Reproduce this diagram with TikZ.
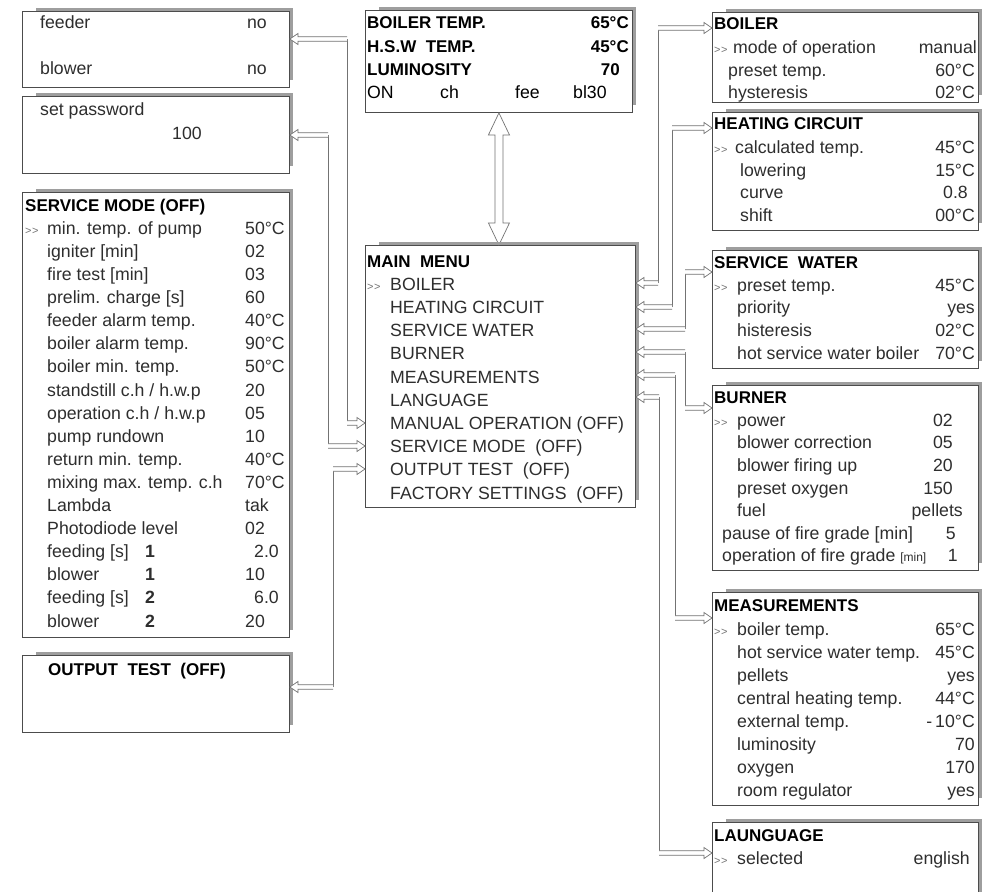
\documentclass[tikz,border=0pt]{standalone}
\usepackage{fontspec}
\setmainfont{Liberation Sans}
\usetikzlibrary{calc}

\tikzset{
  panel/.style={draw=black!70, line width=0.9pt, fill=white, anchor=north west, inner sep=0pt,
    minimum width=267pt},
  shade/.style={draw=black!38, line width=3pt},
  txt/.style={anchor=west, inner sep=0pt, text height=12.5pt, text depth=0pt, text=black!82,
    font=\fontsize{17.7}{20}\selectfont},
  val/.style={txt, anchor=east},
  ttl/.style={txt, text=black, font=\fontsize{17}{20}\selectfont\bfseries},
  ttlv/.style={ttl, anchor=east},
  wire/.style={draw=black!55, line width=0.7pt},
  % hollow double-line arrow, tip at the target
  hollow/.style={wire, fill=white, to path={
    let \p1=($(\tikztotarget)!8pt!(\tikztostart)$) in
    ($(\tikztostart)!2.3pt!90:(\tikztotarget)$) -- ($(\p1)!2.3pt!90:(\tikztotarget)$)
    -- ($(\p1)!5.5pt!90:(\tikztotarget)$) -- (\tikztotarget)
    -- ($(\p1)!5.5pt!-90:(\tikztotarget)$) -- ($(\p1)!2.3pt!-90:(\tikztotarget)$)
    -- ($(\tikztostart)!2.3pt!-90:(\tikztotarget)$)}},
  hollowboth/.style={wire, fill=white, to path={
    let \p1=($(\tikztostart)!22pt!(\tikztotarget)$), \p2=($(\tikztotarget)!22pt!(\tikztostart)$) in
    (\tikztostart) -- ($(\p1)!10.5pt!90:(\tikztotarget)$) -- ($(\p1)!4pt!90:(\tikztotarget)$)
    -- ($(\p2)!4pt!90:(\tikztotarget)$) -- ($(\p2)!10.5pt!90:(\tikztotarget)$) -- (\tikztotarget)
    -- ($(\p2)!10.5pt!-90:(\tikztotarget)$) -- ($(\p2)!4pt!-90:(\tikztotarget)$)
    -- ($(\p1)!4pt!-90:(\tikztotarget)$) -- ($(\p1)!10.5pt!-90:(\tikztotarget)$) -- cycle}}
}
\newcommand\sel{\mbox{\fontsize{11}{11}\selectfont\color{black!55}>\kern0.4pt>}}

\begin{document}
\begin{tikzpicture}[x=1pt, y=-1pt]
\path[fill=white] (0,0) rectangle (989,892);
\useasboundingbox (0,0) rectangle (989,892);

%display
\node[panel, minimum height=102pt] (status) at (365,10) {};
\node[ttl] at (367,22) {BOILER TEMP.};
\node[ttlv] at (629,22) {65°C};
\node[ttl] at (367,46) {H.S.W\ \ TEMP.};
\node[ttlv] at (629,46) {45°C};
\node[ttl] at (367,69) {LUMINOSITY};
\node[ttlv] at (620,69) {70};
\node[txt, text=black] at (367,92) {ON};
\node[txt, text=black] at (440,92) {ch};
\node[txt, text=black] at (515,92) {fee};
\node[txt, text=black] at (573,92) {bl30};

%main menu
\node[panel, minimum width=270pt, minimum height=262pt] (mm) at (365,245) {};
\node[ttl] at (367,261) {MAIN\ \ MENU};
\node[txt] at (367,284) {\sel};
\foreach \a [count=\i from 0] in {BOILER, HEATING CIRCUIT, SERVICE WATER, BURNER, MEASUREMENTS,
    LANGUAGE, MANUAL OPERATION (OFF), SERVICE MODE\ \ (OFF), OUTPUT TEST\ \ (OFF),
    FACTORY SETTINGS\ \ (OFF)}
  \node[txt] at (390,{284+23.2*\i}) {\a};

\draw[hollowboth] (status.south) to (status.south |- mm.north);

%left side
\node[panel, minimum height=76pt] (manual) at (22,11) {};
\node[txt] at (40,22) {feeder};
\node[val] at (267,22) {no};
\node[txt] at (40,68) {blower};
\node[val] at (267,68) {no};

\node[panel, minimum height=77pt] (passwd) at (22,96) {};
\node[txt] at (40,109) {set password};
\node[txt] at (172,133) {100};

\node[panel, minimum height=445pt] (service) at (22,192) {};
\node[ttl] at (25,205) {SERVICE MODE (OFF)};
\node[txt] at (25,228) {\sel};
\foreach \a/\b [count=\i] in {{min. temp. of pump}/50°C, {igniter [min]}/02, {fire test [min]}/03,
    {prelim. charge [s]}/60, {feeder alarm temp.}/40°C, {boiler alarm temp.}/90°C,
    {boiler min. temp.}/50°C, {standstill c.h / h.w.p}/20, {operation c.h / h.w.p}/05,
    {pump rundown}/10, {return min. temp.}/40°C, {mixing max. temp. c.h}/70°C,
    {Lambda}/tak, {Photodiode level}/02}
{
  \node[txt] at (47,{205+23.1*\i}) {\a};
  \node[txt] at (245,{205+23.1*\i}) {\b};
}
\foreach \a/\n [count=\i from 15] in {{feeding [s]}/1, blower/1, {feeding [s]}/2, blower/2}
{
  \node[txt] at (47,{205+23.1*\i}) {\a};
  \node[txt, font=\fontsize{17.7}{20}\selectfont\bfseries] at (145,{205+23.1*\i}) {\n};
}
\node[val] at (279,{205+23.1*15}) {2.0};
\node[txt] at (245,{205+23.1*16}) {10};
\node[val] at (279,{205+23.1*17}) {6.0};
\node[txt] at (245,{205+23.1*18}) {20};

\node[panel, minimum height=77pt] (outtest) at (22,655) {};
\node[ttl] at (48,669) {OUTPUT\ \ TEST\ \ (OFF)};

%right side
\node[panel, minimum width=266pt, minimum height=90pt] (boiler) at (712,12) {};
\node[ttl] at (714,23) {BOILER};
\node[txt] at (714,47) {\sel};
\node[txt] at (733,47) {mode of operation};
\node[val] at (977,47) {manual};
\node[txt] at (728,70) {preset temp.};
\node[val] at (975,70) {60°C};
\node[txt] at (728,92) {hysteresis};
\node[val] at (975,92) {02°C};

\node[panel, minimum width=266pt, minimum height=118pt] (heating) at (712,112) {};
\node[ttl] at (714,123) {HEATING CIRCUIT};
\node[txt] at (714,147) {\sel};
\node[txt] at (735,147) {calculated temp.};
\node[val] at (975,147) {45°C};
\node[txt] at (740,170) {lowering};
\node[val] at (975,170) {15°C};
\node[txt] at (740,192) {curve};
\node[val] at (968,192) {0.8};
\node[txt] at (740,215) {shift};
\node[val] at (975,215) {00°C};

\node[panel, minimum width=266pt, minimum height=118pt] (water) at (712,250) {};
\node[ttl] at (714,262) {SERVICE\ \ WATER};
\node[txt] at (714,285) {\sel};
\foreach \a/\b [count=\i from 0] in {{preset temp.}/45°C, priority/yes, histeresis/02°C,
    {hot service water boiler}/70°C}
{
  \node[txt] at (737,{285+22.6*\i}) {\a};
  \node[val] at (975,{285+22.6*\i}) {\b};
}

\node[panel, minimum width=266pt, minimum height=185pt] (burner) at (712,385) {};
\node[ttl] at (714,397) {BURNER};
\node[txt] at (714,420) {\sel};
\foreach \a/\b [count=\i from 0] in {power/02, {blower correction}/05, {blower firing up}/20,
    {preset oxygen}/150}
{
  \node[txt] at (737,{420+22.6*\i}) {\a};
  \node[val] at (953,{420+22.6*\i}) {\b};
}
\node[txt] at (737,510) {fuel};
\node[val] at (963,510) {pellets};
\node[txt] at (722,533) {pause of fire grade [min]};
\node[val] at (956,533) {5};
\node[txt] at (722,555) {operation of fire grade {\fontsize{12}{12}\selectfont[min]}};
\node[val] at (958,555) {1};

\node[panel, minimum width=266pt, minimum height=213pt] (meas) at (712,592) {};
\node[ttl] at (714,605) {MEASUREMENTS};
\node[txt] at (714,629) {\sel};
\foreach \a/\b [count=\i from 0] in {{boiler temp.}/65°C, {hot service water temp.}/45°C,
    pellets/yes, {central heating temp.}/44°C, {external temp.}/{-\,10°C}, luminosity/70,
    oxygen/170, {room regulator}/yes}
{
  \node[txt] at (737,{629+23*\i}) {\a};
  \node[val] at (975,{629+23*\i}) {\b};
}

\node[panel, minimum width=266pt, minimum height=90pt] (lang) at (712,822) {};
\node[ttl] at (714,835) {LAUNGUAGE};
\node[txt] at (714,858) {\sel};
\node[txt] at (737,858) {selected};
\node[val] at (970,858) {english};

%shadows on top and right
\foreach \b in {status, mm, manual, passwd, service, outtest, boiler, heating, water, burner, meas, lang}
  \draw[shade] ($(\b.north west)+(14,-1.8)$) -- ($(\b.north east)+(1.8,-1.8)$)
    -- ($(\b.south east)+(1.8,-8)$);

%links right
\draw[wire] (658,283) -- (658,28);
\draw[hollow] (658,283) to (mm.east |- 0,283);
\draw[hollow] (658,28) to (boiler.west |- 0,28);

\draw[wire] (672,307) -- (672,128);
\draw[hollow] (672,307) to (mm.east |- 0,307);
\draw[hollow] (672,128) to (heating.west |- 0,128);

\draw[wire] (685,329) -- (685,272);
\draw[hollow] (685,329) to (mm.east |- 0,329);
\draw[hollow] (685,272) to (water.west |- 0,272);

\draw[wire] (685,352) -- (685,408);
\draw[hollow] (685,352) to (mm.east |- 0,352);
\draw[hollow] (685,408) to (burner.west |- 0,408);

\draw[wire] (675,375) -- (675,618);
\draw[hollow] (675,375) to (mm.east |- 0,375);
\draw[hollow] (675,618) to (meas.west |- 0,618);

\draw[wire] (659,397) -- (659,853);
\draw[hollow] (659,397) to (mm.east |- 0,397);
\draw[hollow] (659,853) to (lang.west |- 0,853);

%links left
\draw[wire] (347,39) -- (347,423);
\draw[hollow] (347,39) to (manual.east |- 0,39);
\draw[hollow] (347,423) to (mm.west |- 0,423);

\draw[wire] (328,135) -- (328,446);
\draw[hollow] (328,135) to (passwd.east |- 0,135);
\draw[hollow] (328,446) to (mm.west |- 0,446);

\draw[wire] (333,687) -- (333,469);
\draw[hollow] (333,687) to (outtest.east |- 0,687);
\draw[hollow] (333,469) to (mm.west |- 0,469);

\end{tikzpicture}
\end{document}
